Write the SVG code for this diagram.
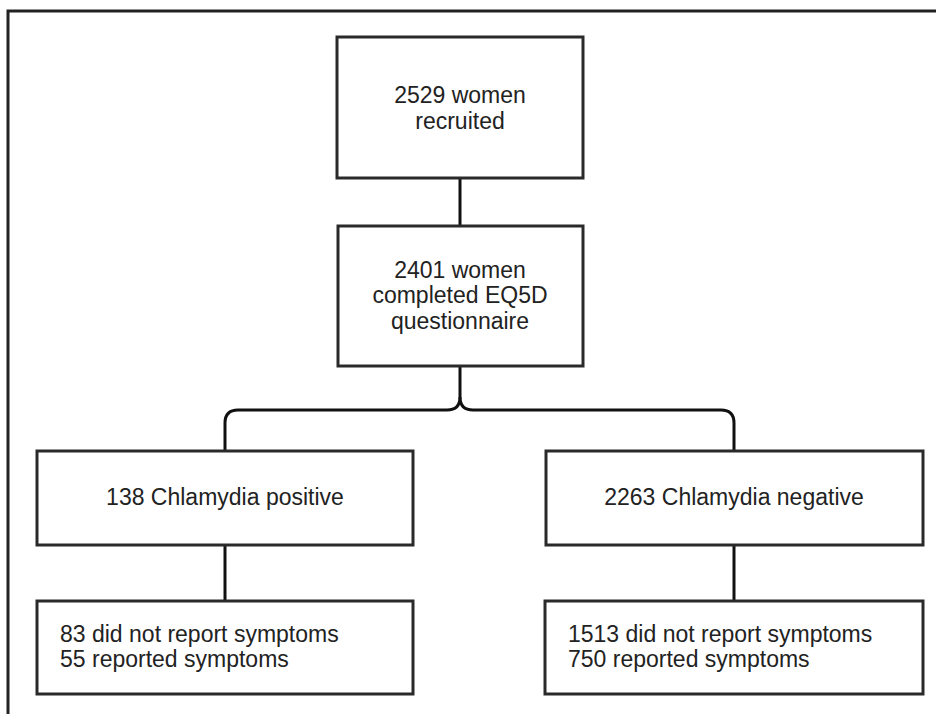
<svg xmlns="http://www.w3.org/2000/svg" width="936" height="714" viewBox="0 0 936 714">
<style>
.box{fill:#fff;stroke:#2a2a2a;stroke-width:3}
.ln{fill:none;stroke:#111;stroke-width:3}
.frame{fill:none;stroke:#222;stroke-width:3}
text{font-family:"Liberation Sans",Arial,sans-serif;font-size:23px;fill:#222}
.c{text-anchor:middle}
</style>
<rect width="936" height="714" fill="#fff"/>
<path class="frame" d="M8 714 V11 H936"/>
<g id="connectors">
<path class="ln" d="M460 178 V226"/>
<path class="ln" d="M460 366 V397 Q460 410 447 410 H238 Q225 410 225 423 V451"/>
<path class="ln" d="M460 397 Q460 410 473 410 H721 Q734 410 734 423 V451"/>
<path class="ln" d="M225 545 V601"/>
<path class="ln" d="M734 545 V601"/>
</g>
<g id="n1">
<rect class="box" x="337" y="37" width="246" height="141"/>
<text class="c" x="460" y="103">2529 women</text>
<text class="c" x="460" y="129">recruited</text>
</g>
<g id="n2">
<rect class="box" x="338" y="226" width="245" height="140"/>
<text class="c" x="460" y="278">2401 women</text>
<text class="c" x="460" y="303">completed EQ5D</text>
<text class="c" x="460" y="329">questionnaire</text>
</g>
<g id="n3">
<rect class="box" x="37" y="451" width="376" height="94"/>
<text class="c" x="225" y="505">138 Chlamydia positive</text>
</g>
<g id="n4">
<rect class="box" x="546" y="451" width="377" height="94"/>
<text class="c" x="734" y="505">2263 Chlamydia negative</text>
</g>
<g id="n5">
<rect class="box" x="37" y="601" width="376" height="93"/>
<text x="60" y="642">83 did not report symptoms</text>
<text x="60" y="667">55 reported symptoms</text>
</g>
<g id="n6">
<rect class="box" x="545" y="601" width="378" height="93"/>
<text x="568" y="642">1513 did not report symptoms</text>
<text x="568" y="667">750 reported symptoms</text>
</g>
</svg>
